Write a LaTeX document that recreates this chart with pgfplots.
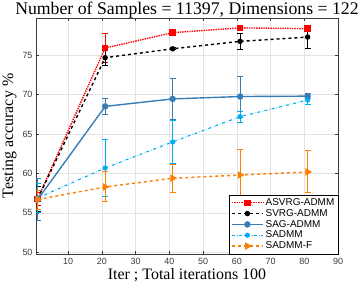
\documentclass[border=0pt]{standalone}
\usepackage{pgfplots}
\pgfplotsset{compat=1.18}
\usepackage{pgfplotstable}
\usepackage{fontspec}
\setmainfont{Liberation Serif}
\setsansfont{Liberation Sans}
\definecolor{mblue}{RGB}{55,126,184}
\definecolor{morange}{RGB}{255,127,0}
\definecolor{axgray}{RGB}{60,60,60}

\pgfplotstableread{
x y e
1 56.8 0.8
21 75.9 1.8
41 77.84 0.4
61 78.45 0.2
81 78.35 0.25
}\asvrg
\pgfplotstableread{
x y e
1 56.8 1.6
21 74.67 0.95
41 75.8 0.1
61 76.74 1.0
81 77.28 1.4
}\svrg
\pgfplotstableread{
x y e
1 56.7 2.7
21 68.5 1.0
41 69.45 2.6
61 69.75 2.6
81 69.8 0.3
}\sag
\pgfplotstableread{
x y e
1 56.9 1.8
21 60.7 3.6
41 64.0 2.7
61 67.2 0.7
81 69.3 0.5
}\sadmm
\pgfplotstableread{
x y e
1 56.7 1.2
21 58.3 1.9
41 59.4 1.75
61 59.8 3.2
81 60.2 2.65
}\sadmmf

\begin{document}
\begin{tikzpicture}
\useasboundingbox (0,0) rectangle (358bp,297bp);
\begin{axis}[
  at={(36bp,43bp)}, anchor=south west,
  width=302bp, height=236bp, scale only axis,
  xmin=0.5, xmax=90, ymin=49.8, ymax=79.7,
  xtick={10,20,...,90}, ytick={50,55,...,75},
  grid=major, grid style={gray!22, line width=0.4pt},
  axis line style={axgray, line width=0.5pt},
  tick style={axgray}, tick align=inside,
  major tick length=3bp,
  /pgf/number format/assume math mode=true,
  ticklabel style={font=\sffamily\fontsize{9}{10}\selectfont, text=axgray},
  xticklabel style={yshift=-1bp},
  title={Number of Samples = 11397, Dimensions = 122},
  every axis title/.style={at={(0.5,1)}, anchor=base, yshift=3.3bp,
    font=\fontsize{17.8}{19}\selectfont},
  xlabel={Iter ; Total iterations 100},
  xlabel style={font=\fontsize{16}{18}\selectfont, yshift=3bp},
  ylabel={Testing accuracy \%},
  ylabel style={font=\fontsize{16}{18}\selectfont, yshift=-1bp},
  legend style={at={(1,0)}, anchor=south east, draw=black,
    font=\sffamily\fontsize{10}{11}\selectfont, row sep=-1.6pt,
    inner sep=1.5pt},
  legend cell align=left,
  legend image code/.code={\draw[mark repeat=2,mark phase=2] plot coordinates {(0cm,0cm) (0.55cm,0cm) (1.1cm,0cm)};},
  error bars/error bar style={solid, line width=1pt},
  error bars/error mark options={rotate=90, mark size=3bp, line width=1pt, solid},
]
\addplot[red, densely dotted, line width=1.4pt, mark=square*, mark size=2.5bp, mark options={solid},
  error bars/.cd, y dir=both, y explicit]
  table[x=x, y=y, y error=e]{\asvrg};
\addlegendentry{ASVRG-ADMM}
\addplot[black, dashed, line width=1.4pt, mark=*, mark size=2bp, mark options={solid},
  error bars/.cd, y dir=both, y explicit]
  table[x=x, y=y, y error=e]{\svrg};
\addlegendentry{SVRG-ADMM}
\addplot[mblue, solid, line width=1.4pt, mark=*, mark size=2.5bp,
  error bars/.cd, y dir=both, y explicit]
  table[x=x, y=y, y error=e]{\sag};
\addlegendentry{SAG-ADMM}
\addplot[cyan, dash dot, line width=1.1pt, mark=*, mark size=2bp, mark options={solid},
  error bars/.cd, y dir=both, y explicit]
  table[x=x, y=y, y error=e]{\sadmm};
\addlegendentry{SADMM}
\addplot[morange, dashed, line width=1.4pt, mark=triangle*, mark size=3bp, mark options={solid, rotate=-90},
  error bars/.cd, y dir=both, y explicit]
  table[x=x, y=y, y error=e]{\sadmmf};
\addlegendentry{SADMM-F}
\end{axis}
\end{tikzpicture}
\end{document}
